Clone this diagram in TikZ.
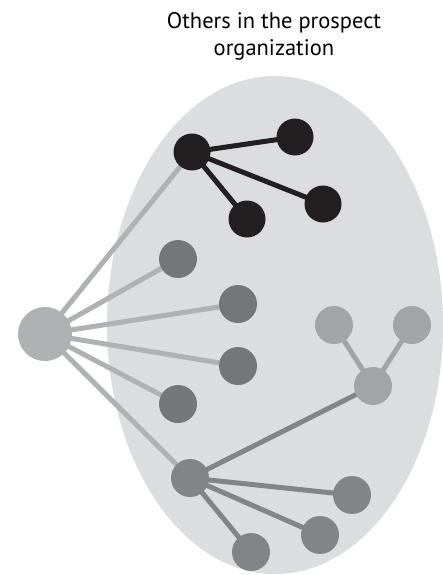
\documentclass[tikz,border=0pt]{standalone}
\usepackage{fontspec}
\setmainfont{PT Sans}
\definecolor{ell}{HTML}{DCDDDF}
\definecolor{lightn}{HTML}{B0B1B3}
\definecolor{blk}{HTML}{231F20}
\definecolor{darkn}{HTML}{75767A}
\definecolor{midn}{HTML}{838488}
\definecolor{paleN}{HTML}{A3A4A7}
\pgfdeclarelayer{bg}
\pgfsetlayers{bg,main}
\begin{document}
\begin{tikzpicture}[x=1pt,y=-1pt,
  dot/.style={circle,inner sep=0pt,minimum size=38pt,draw=none},
  edge/.style={line width=5pt}]
\useasboundingbox (0,0) rectangle (443,575);
\node[font=\fontsize{22.5}{27}\selectfont,align=center] (title) at (274,36) {Others in the prospect\\organization};
% nodes
\node[dot,fill=lightn,minimum size=54pt] (L) at (45,334) {};
\node[dot,fill=blk,minimum size=37pt] (B0) at (192,152) {};
\node[dot,fill=blk,minimum size=37pt] (B1) at (295,137) {};
\node[dot,fill=blk,minimum size=37pt] (B2) at (323,204) {};
\node[dot,fill=blk,minimum size=37pt] (B3) at (247,219) {};
\node[dot,fill=darkn] (D1) at (178,259) {};
\node[dot,fill=darkn] (D2) at (238,304) {};
\node[dot,fill=darkn] (D3) at (238,366) {};
\node[dot,fill=darkn] (D4) at (178,404) {};
\node[dot,fill=midn] (H) at (190,478) {};
\node[dot,fill=midn] (M1) at (352,495) {};
\node[dot,fill=midn] (M2) at (320,535) {};
\node[dot,fill=midn] (M3) at (251,552) {};
\node[dot,fill=paleN] (P0) at (373,386) {};
\node[dot,fill=paleN] (P1) at (334,325) {};
\node[dot,fill=paleN] (P2) at (412,325) {};
% background and edges
\begin{pgfonlayer}{bg}
\fill[ell] (275,325) ellipse [x radius=168, y radius=249];
\foreach \t in {B0,D1,D2,D3,D4,H} \draw[edge,lightn] (L.center) -- (\t.center);
\foreach \t in {B1,B2,B3} \draw[edge,blk] (B0.center) -- (\t.center);
\foreach \t in {M1,M2,M3} \draw[edge,midn] (H.center) -- (\t.center);
\draw[edge,midn] (H.center) -- (P0.center);
\foreach \t in {P1,P2} \draw[edge,paleN] (P0.center) -- (\t.center);
\end{pgfonlayer}
\end{tikzpicture}
\end{document}
